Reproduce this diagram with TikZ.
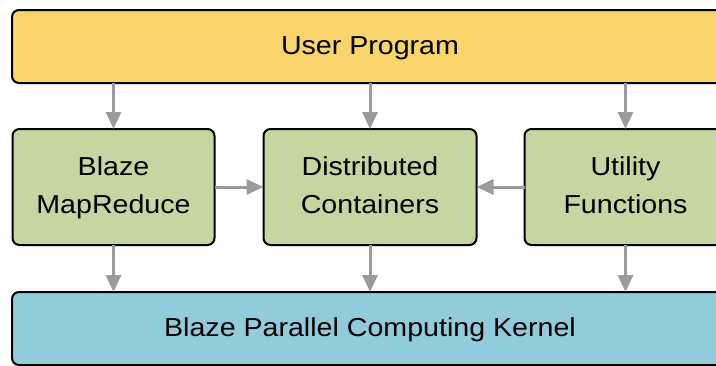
\documentclass[tikz,border=0pt]{standalone}
\usepackage{fontspec}
\setmainfont[FakeStretch=1.1]{Liberation Sans}
\usepackage{tikz}
\usetikzlibrary{arrows.meta, positioning}
\definecolor{usernode}{RGB}{248,212,106}
\definecolor{midnode}{RGB}{197,214,160}
\definecolor{kernnode}{RGB}{145,204,220}
\definecolor{arrgray}{RGB}{155,155,155}
\newcommand{\txtline}[1]{\strut#1}
\tikzset{
  block/.style={
    rectangle, rounded corners=7pt, draw=black, line width=2pt,
    align=center, font=\fontsize{26}{38}\selectfont,
    inner sep=0pt, outer sep=0pt
  },
  usr/.style={block, fill=usernode, minimum width=716pt, minimum height=73pt},
  mid/.style={block, fill=midnode, minimum width=202pt, minimum height=116pt},
  kern/.style={block, fill=kernnode, minimum width=716pt, minimum height=73pt},
  arr/.style={-{Triangle[length=17pt, width=15pt]}, draw=arrgray, line width=3pt}
}

\begin{document}
\begin{tikzpicture}[x=1pt, y=-1pt]
  \useasboundingbox (0,0) rectangle (716,365);
  \clip (0,0) rectangle (716,365);

  \node[usr] (user) at (370,46.5) {\txtline{User Program}};
  \node[mid, minimum width=213pt, below=46pt of user] (dist)
        {\txtline{Distributed}\\\txtline{Containers}};
  \node[mid, left=49pt of dist] (mapred) {\txtline{Blaze}\\\txtline{MapReduce}};
  \node[mid, right=48pt of dist] (util) {\txtline{Utility}\\\txtline{Functions}};
  \node[kern, below=47pt of dist] (kernel) {\txtline{Blaze Parallel Computing Kernel}};

  % down from the user program
  \draw[arr] (user.south -| mapred) -- (mapred);
  \draw[arr] (user) -- (dist);
  \draw[arr] (user.south -| util) -- (util);

  % sideways into the containers
  \draw[arr] (mapred) -- (dist);
  \draw[arr] (util) -- (dist);

  % down to the kernel
  \draw[arr] (mapred) -- (kernel.north -| mapred);
  \draw[arr] (dist) -- (kernel);
  \draw[arr] (util) -- (kernel.north -| util);
\end{tikzpicture}
\end{document}
